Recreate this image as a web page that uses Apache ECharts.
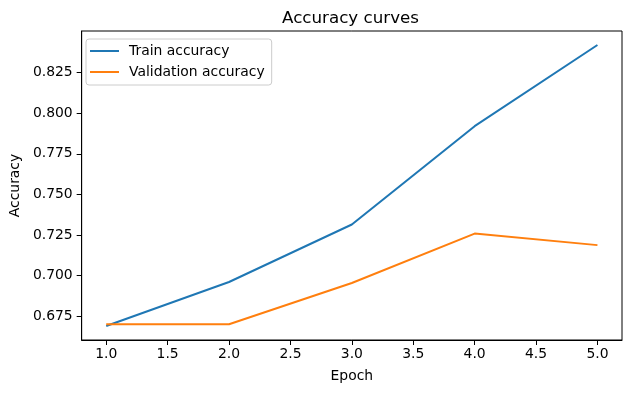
<!DOCTYPE html>
<html>
<head>
<meta charset="utf-8">
<script src="https://cdn.jsdelivr.net/npm/echarts@6/dist/echarts.min.js"></script>
<style>html,body{margin:0;padding:0;background:#fff;}#c{width:631px;height:393px;}</style>
</head>
<body>
<div id="c"></div>
<script>
const epochs = [1, 2, 3, 4, 5];
const trainAcc = [0.6690, 0.6961, 0.7315, 0.7920, 0.8420];
const valAcc = [0.6701, 0.6701, 0.6955, 0.7259, 0.7188];
const xTicks = [1.0, 1.5, 2.0, 2.5, 3.0, 3.5, 4.0, 4.5, 5.0];
const yTicks = [0.675, 0.700, 0.725, 0.750, 0.775, 0.800, 0.825];

const font = 'DejaVu Sans';
const chart = echarts.init(document.getElementById('c'), null, {renderer: 'canvas'});
chart.setOption({
  animation: false,
  backgroundColor: '#fff',
  title: {
    text: 'Accuracy curves', left: 350.5, top: 10, textAlign: 'center', padding: 0,
    textStyle: {fontFamily: font, fontSize: 16.7, fontWeight: 'normal', color: '#000'}
  },
  legend: {
    orient: 'vertical', left: 86, top: 39,
    padding: [4, 7, 5, 4], itemGap: 5,
    backgroundColor: 'rgba(255,255,255,0.8)',
    borderColor: '#cccccc', borderWidth: 1, borderRadius: 3,
    icon: 'rect', itemWidth: 29, itemHeight: 2,
    textStyle: {fontFamily: font, fontSize: 13.9, color: '#000', lineHeight: 16, padding: [0, 0, 0, 5]},
    data: ['Train accuracy', 'Validation accuracy']
  },
  grid: {left: 79, right: 9, top: 31, bottom: 53, show: true, borderColor: '#000', borderWidth: 1, backgroundColor: 'transparent'},
  xAxis: {
    type: 'value', min: 0.8, max: 5.2,
    name: 'Epoch', nameLocation: 'middle', nameGap: 29,
    nameTextStyle: {fontFamily: font, fontSize: 13.9, color: '#000'},
    axisLine: {show: true, lineStyle: {color: '#000', width: 1}},
    axisTick: {show: true, length: 5, lineStyle: {color: '#000', width: 1}, customValues: xTicks},
    axisLabel: {fontFamily: font, fontSize: 13.9, color: '#000', margin: 7, customValues: xTicks,
      formatter: v => Number(v).toFixed(1)},
    splitLine: {show: false}
  },
  yAxis: {
    type: 'value', min: 0.6604, max: 0.8506,
    name: 'Accuracy', nameLocation: 'middle', nameGap: 54, nameRotate: 90,
    nameTextStyle: {fontFamily: font, fontSize: 13.9, color: '#000'},
    axisLine: {show: true, lineStyle: {color: '#000', width: 1}},
    axisTick: {show: true, length: 5, lineStyle: {color: '#000', width: 1}, customValues: yTicks},
    axisLabel: {fontFamily: font, fontSize: 13.9, color: '#000', margin: 9, customValues: yTicks,
      formatter: v => Number(v).toFixed(3)},
    splitLine: {show: false}
  },
  series: [
    {name: 'Train accuracy', type: 'line', showSymbol: false, symbol: 'none',
     data: epochs.map((e, i) => [e, trainAcc[i]]),
     lineStyle: {color: '#1f77b4', width: 2}, itemStyle: {color: '#1f77b4'}},
    {name: 'Validation accuracy', type: 'line', showSymbol: false, symbol: 'none',
     data: epochs.map((e, i) => [e, valAcc[i]]),
     lineStyle: {color: '#ff7f0e', width: 2}, itemStyle: {color: '#ff7f0e'}}
  ]
});
</script>
</body>
</html>
